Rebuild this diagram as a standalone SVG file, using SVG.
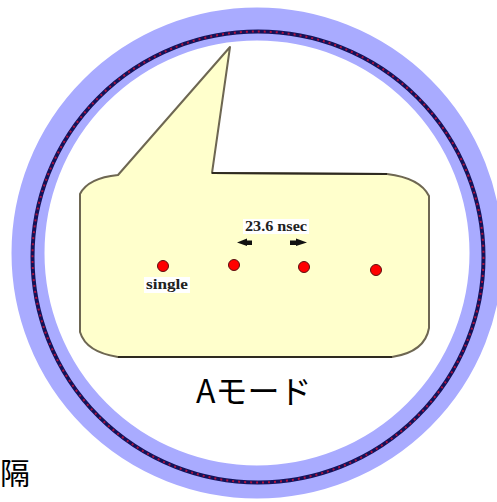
<svg xmlns="http://www.w3.org/2000/svg" width="497" height="502" viewBox="0 0 497 502">
  <style>
    .jp { font-family: "Noto Sans CJK JP", "Noto Sans", sans-serif; fill: #000; }
    .lbl { font-family: "Liberation Serif", "Times New Roman", serif; font-weight: bold; fill: #222; }
    .bunch { fill: #ff0000; stroke: #5a1010; stroke-width: 1; }
    .lblbg { fill: #ffffff; }
  </style>
  <rect width="497" height="502" fill="#ffffff"/>

  <g id="ring">
    <circle cx="257" cy="253" r="229" fill="none" stroke="#a9abff" stroke-width="33"/>
    <circle cx="258" cy="257" r="225.5" fill="none" stroke="#12125a" stroke-width="4"/>
    <circle cx="258" cy="257" r="225.5" fill="none" stroke="#b0103c" stroke-width="2" stroke-dasharray="2 4"/>
  </g>

  <g id="callout">
    <path d="M230,47 L212,173 L387,174 Q420,178 429,196 L429,328 Q425,352 392,357 L118,357 Q86,352 80,332 L80,194 Q88,178 118,175 Z" fill="#ffffcc" stroke="#6e6752" stroke-width="2" stroke-linejoin="round"/>
    <path d="M212,173 L387,174 M392,357 L118,357" fill="none" stroke="#2e2a20" stroke-width="2"/>
  </g>

  <g id="bunches">
    <circle class="bunch" cx="163" cy="266" r="5.5"/>
    <circle class="bunch" cx="234" cy="265" r="5.5"/>
    <circle class="bunch" cx="304" cy="267" r="5.5"/>
    <circle class="bunch" cx="376" cy="270" r="5.5"/>
  </g>

  <g id="label-single">
    <rect class="lblbg" x="144" y="277" width="46" height="16"/>
    <text class="lbl" x="146" y="289" font-size="14" textLength="42" lengthAdjust="spacingAndGlyphs">single</text>
  </g>

  <g id="label-spacing">
    <rect class="lblbg" x="243" y="219" width="66" height="15"/>
    <text class="lbl" x="245" y="231" font-size="14" textLength="62" lengthAdjust="spacingAndGlyphs">23.6 nsec</text>
    <polygon points="237,242.5 247,238.5 247,240.5 252,240.5 252,245 247,245 247,246" fill="#111"/>
    <polygon points="307,242.5 296,238.5 296,240.5 290,240.5 290,245 296,245 296,246" fill="#111"/>
  </g>

  <g id="mode-label">
    <text class="jp" x="196" y="403" font-size="32">Aモード</text>
  </g>

  <g id="edge-text">
    <text class="jp" x="0" y="484" font-size="30">隔</text>
  </g>
</svg>
